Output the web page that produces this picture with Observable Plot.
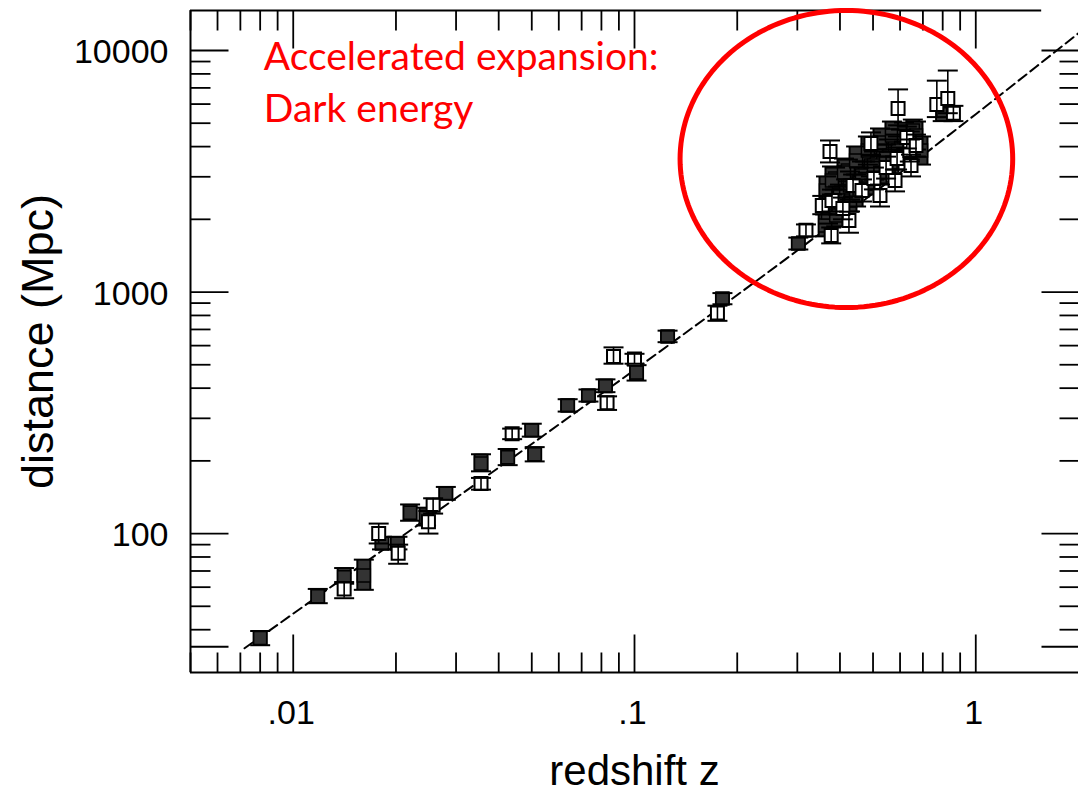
<!DOCTYPE html>
<html>
<head>
<meta charset="utf-8">
<script src="https://cdn.jsdelivr.net/npm/d3@7"></script>
<script src="https://cdn.jsdelivr.net/npm/@observablehq/plot@0.6"></script>
<style>
  html, body { margin: 0; padding: 0; background: #fff; }
</style>
</head>
<body>
<div id="chart"></div>
<script>
// Hubble diagram of type Ia supernovae: distance (Mpc) against redshift z, log–log.

// Supernova measurements: redshift, distance and the ends of each error bar.
const redshift = [
  0.0080, 0.0118, 0.0141, 0.0141, 0.0161, 0.0178, 0.0182, 0.0202, 0.0203, 0.0220,
  0.0245, 0.0249, 0.0257, 0.0280, 0.0355, 0.0355, 0.0425, 0.0438, 0.0500, 0.0510,
  0.0637, 0.0733, 0.0822, 0.0831, 0.0868, 0.1000, 0.1014, 0.125, 0.181, 0.175,
  0.302, 0.318,
  0.374, 0.493, 0.592, 0.769, 0.828, 0.800, 0.860, 0.377, 0.425, 0.355,
  0.362, 0.369, 0.379, 0.390, 0.400, 0.408, 0.417, 0.428, 0.437, 0.446,
  0.455, 0.464, 0.474, 0.483, 0.493, 0.503, 0.513, 0.524, 0.535, 0.546,
  0.557, 0.568, 0.580, 0.588, 0.604, 0.616, 0.628, 0.641, 0.654, 0.668,
  0.646, 0.524, 0.580, 0.387, 0.422,
  0.364, 0.379, 0.395, 0.411, 0.428, 0.446, 0.464, 0.483, 0.503, 0.524,
  0.546, 0.568, 0.591, 0.616, 0.641, 0.668, 0.691
];
const distance = [
  37, 55, 66, 59, 67, 100, 91, 91, 83, 122,
  117, 112, 131, 147, 195, 161, 207, 259, 268, 213,
  339, 373, 408, 348, 541, 528, 464, 655, 940, 818,
  1590, 1800,
  3820, 4125, 5750, 5980, 6330, 5450, 5500, 1715, 1977, 2280,
  1886, 2134, 2393, 2074, 2509, 2217, 2633, 2393, 2761, 2509,
  2950, 2633, 3125, 2813, 3340, 2950, 3504, 3125, 3675, 3277,
  3854, 3438, 4042, 3570, 4240, 3780, 4360, 3854, 4664, 4042,
  3340, 2509, 2895, 2950, 3185,
  2633, 2895, 2393, 3125, 2761, 3504, 3036, 3854, 3340, 4160,
  3570, 4446, 3854, 4400, 4042, 4446, 3854
];
const distLow = [
  34.5, 51.5, 62, 54, 58.5, 91, 86, 86, 75, 113,
  108, 100, 121, 138, 181, 152, 192, 246, 252, 199,
  320, 352, 385, 325, 505, 505, 430, 620, 890, 760,
  1500, 1700,
  3440, 3680, 4900, 5300, 5500, 5100, 5100, 1590, 1760, 2100,
  1700, 1920, 2155, 1870, 2260, 2000, 2370, 2155, 2490, 2260,
  2660, 2370, 2815, 2535, 3010, 2660, 3155, 2815, 3310, 2950,
  3470, 3100, 3640, 3215, 3820, 3405, 3930, 3470, 4200, 3640,
  3010, 2260, 2610, 2660, 2870,
  2305, 2535, 2095, 2735, 2415, 3065, 2655, 3370, 2920, 3640,
  3125, 3890, 3370, 3850, 3535, 3890, 3370
];
const distHigh = [
  39.5, 59, 72, 63, 78, 110, 97, 97, 90, 132,
  128, 124, 140, 156, 213, 170, 224, 272, 285, 228,
  360, 395, 435, 370, 590, 555, 498, 692, 990, 878,
  1680, 1905,
  4240, 4580, 6900, 7500, 8260, 5850, 5900, 1850, 2150, 2500,
  2095, 2370, 2655, 2300, 2785, 2460, 2925, 2655, 3065, 2785,
  3275, 2925, 3470, 3120, 3705, 3275, 3890, 3470, 4080, 3635,
  4280, 3815, 4485, 3965, 4705, 4195, 4840, 4280, 5175, 4485,
  3705, 2785, 3215, 3275, 3535,
  3010, 3310, 2735, 3570, 3155, 4005, 3470, 4405, 3815, 4755,
  4080, 5080, 4405, 5030, 4620, 5080, 4405
];
const marker = [
  "filled", "filled", "filled", "open", "filled", "open", "filled", "filled", "open", "filled",
  "filled", "open", "open", "filled", "filled", "open", "filled", "open", "filled", "filled",
  "filled", "filled", "filled", "open", "open", "open", "filled", "filled", "filled", "open",
  "filled", "open",
  "open", "open", "open", "open", "open", "filled", "open", "open", "open", "open",
  "filled", "filled", "open", "filled", "filled", "open", "filled", "filled", "open", "filled",
  "filled", "open", "filled", "filled", "filled", "open", "filled", "filled", "filled", "open",
  "filled", "filled", "filled", "open", "filled", "filled", "open", "open", "filled", "open",
  "open", "open", "open", "filled", "filled",
  "filled", "filled", "filled", "filled", "filled", "filled", "filled", "filled", "filled", "filled",
  "filled", "filled", "filled", "filled", "filled", "filled", "filled"
];

// Decelerating (matter-only) expansion curve.
const modelZ = [0.0072, 0.01, 0.02, 0.05, 0.1, 0.2, 0.3, 0.5, 0.7, 1, 1.5, 2];
const modelD = [33.5, 46.6, 93.5, 235, 476, 972, 1486, 2560, 3684, 5448, 8545, 11790];

// Axes
const zDomain = [0.005, 2];
const dDomain = [26.6, 14640];
const xTicksMajor = [0.01, 0.1, 1];
const xTickLabels = [".01", ".1", "1"];
const xTicksMinor = [0.005, 0.006, 0.007, 0.008, 0.009, 0.02, 0.03, 0.04, 0.05, 0.06, 0.07, 0.08, 0.09,
                     0.2, 0.3, 0.4, 0.5, 0.6, 0.7, 0.8, 0.9];
const yTicksMajor = [34, 100, 1000, 10000];
const yTickLabels = ["", "100", "1000", "10000"];
const yTicksMinor = [40, 50, 60, 70, 80, 90, 200, 300, 400, 500, 600, 700, 800, 900,
                     2000, 3000, 4000, 5000, 6000, 7000, 8000, 9000];
const topAxisEnd = 1.56;

// Highlighted region (extent of the ring in z and distance)
const ringZ = [0.136, 1.283];
const ringD = [863, 14640];
const noteText = "Accelerated expansion:\nDark energy";
const noteAt = {z: 0.0082, d: 11760};

const rows = redshift.map((z, i) => ({z, d: distance[i], lo: distLow[i], hi: distHigh[i], kind: marker[i]}));
const filled = rows.filter(r => r.kind === "filled");
const open = rows.filter(r => r.kind === "open");
const model = modelZ.map((z, i) => ({z, d: modelD[i]}));

const lz = ringZ.map(Math.log10), ld = ringD.map(Math.log10);
const cz = (lz[0] + lz[1]) / 2, rz = (lz[1] - lz[0]) / 2;
const cd = (ld[0] + ld[1]) / 2, rd = (ld[1] - ld[0]) / 2;
const ring = d3.range(0, 361, 2).map(a => {
  const t = a * Math.PI / 180;
  return {z: 10 ** (cz + rz * Math.cos(t)), d: 10 ** (cd + rd * Math.sin(t))};
});

// Custom glyphs: error-bar caps, square markers and inward tick segments
const cap = {draw(ctx) { ctx.moveTo(-10, 0); ctx.lineTo(10, 0); }};
const box = {draw(ctx) { ctx.rect(-6.5, -6.5, 13, 13); }};
const seg = (dx, dy) => ({draw(ctx) { ctx.moveTo(0, 0); ctx.lineTo(dx, dy); }});

const font = "'Liberation Sans', Arial, Helvetica, sans-serif";
const ink = "#000";
const tickW = 1.8;

const chart = Plot.plot({
  width: 1078,
  height: 802,
  marginLeft: 190,
  marginRight: 0,
  marginTop: 10,
  marginBottom: 130,
  style: {fontFamily: font, background: "#fff", color: ink},
  x: {type: "log", domain: zDomain, axis: null},
  y: {type: "log", domain: dDomain, axis: null},
  marks: [
    // model curve
    Plot.line(model, {x: "z", y: "d", stroke: ink, strokeWidth: 2, strokeDasharray: "10,5", curve: "monotone-x"}),

    // filled points: solid bar spanning the error range
    Plot.ruleX(filled, {x: "z", y1: "lo", y2: "hi", stroke: ink, strokeWidth: 15}),
    Plot.ruleX(filled, {x: "z", y1: "lo", y2: "hi", stroke: "#333", strokeWidth: 11}),
    Plot.dot(filled, {x: "z", y: "d", symbol: box, r: 5, fill: "#333", stroke: ink, strokeWidth: 1.5}),
    Plot.dot(filled, {x: "z", y: "lo", symbol: cap, r: 5, fill: "none", stroke: ink, strokeWidth: 2}),
    Plot.dot(filled, {x: "z", y: "hi", symbol: cap, r: 5, fill: "none", stroke: ink, strokeWidth: 2}),

    // open points: hollow square with error bar
    Plot.dot(open, {x: "z", y: "d", symbol: box, r: 5, fill: "#fff", stroke: ink, strokeWidth: 2}),
    Plot.ruleX(open, {x: "z", y1: "lo", y2: "hi", stroke: ink, strokeWidth: 1.6}),
    Plot.dot(open, {x: "z", y: "lo", symbol: cap, r: 5, fill: "none", stroke: ink, strokeWidth: 2}),
    Plot.dot(open, {x: "z", y: "hi", symbol: cap, r: 5, fill: "none", stroke: ink, strokeWidth: 2}),

    // frame
    Plot.ruleX([zDomain[0]], {y1: dDomain[0], y2: dDomain[1], stroke: ink, strokeWidth: 2}),
    Plot.ruleY([dDomain[0]], {x1: zDomain[0], x2: zDomain[1], stroke: ink, strokeWidth: 2}),
    Plot.ruleY([dDomain[1]], {x1: zDomain[0], x2: topAxisEnd, stroke: ink, strokeWidth: 2}),

    // inward ticks: bottom & top
    Plot.dot(xTicksMinor, {x: d => d, y: dDomain[0], symbol: seg(0, -20), r: 5, fill: "none", stroke: ink, strokeWidth: tickW}),
    Plot.dot(xTicksMajor, {x: d => d, y: dDomain[0], symbol: seg(0, -38), r: 5, fill: "none", stroke: ink, strokeWidth: tickW}),
    Plot.dot(xTicksMinor, {x: d => d, y: dDomain[1], symbol: seg(0, 20), r: 5, fill: "none", stroke: ink, strokeWidth: tickW}),
    Plot.dot(xTicksMajor, {x: d => d, y: dDomain[1], symbol: seg(0, 38), r: 5, fill: "none", stroke: ink, strokeWidth: tickW}),
    // inward ticks: left & right
    Plot.dot(yTicksMinor, {x: zDomain[0], y: d => d, symbol: seg(20, 0), r: 5, fill: "none", stroke: ink, strokeWidth: tickW}),
    Plot.dot(yTicksMajor, {x: zDomain[0], y: d => d, symbol: seg(38, 0), r: 5, fill: "none", stroke: ink, strokeWidth: tickW}),
    Plot.dot(yTicksMinor, {x: zDomain[1], y: d => d, symbol: seg(-19, 0), r: 5, fill: "none", stroke: ink, strokeWidth: tickW}),
    Plot.dot(yTicksMajor, {x: zDomain[1], y: d => d, symbol: seg(-37, 0), r: 5, fill: "none", stroke: ink, strokeWidth: tickW}),

    // tick labels
    Plot.text(yTicksMajor, {x: zDomain[0], y: d => d, text: (d, i) => yTickLabels[i], textAnchor: "end", dx: -22, dy: 2, fontSize: 34, fill: ink}),
    Plot.text(xTicksMajor, {x: d => d, y: dDomain[0], text: (d, i) => xTickLabels[i], dx: -2, dy: 41, fontSize: 34, fill: ink}),

    // axis titles
    Plot.text(["redshift z"], {frameAnchor: "bottom", textAnchor: "middle", dy: 112, fontSize: 42, fill: ink}),
    Plot.text(["distance (Mpc)"], {frameAnchor: "left", textAnchor: "middle", rotate: -90, dx: -152, fontSize: 45, fill: ink}),

    // highlighted high-redshift region and note
    Plot.line(ring, {x: "z", y: "d", stroke: "#ff0000", strokeWidth: 5, curve: "linear-closed"}),
    Plot.text([noteText], {x: noteAt.z, y: noteAt.d, text: d => d, textAnchor: "start", lineAnchor: "top",
      lineHeight: 1.33, fontSize: 39, fontFamily: "Lato, 'Open Sans', sans-serif", fill: "#ff0000"})
  ]
});

document.getElementById("chart").appendChild(chart);
</script>
</body>
</html>
